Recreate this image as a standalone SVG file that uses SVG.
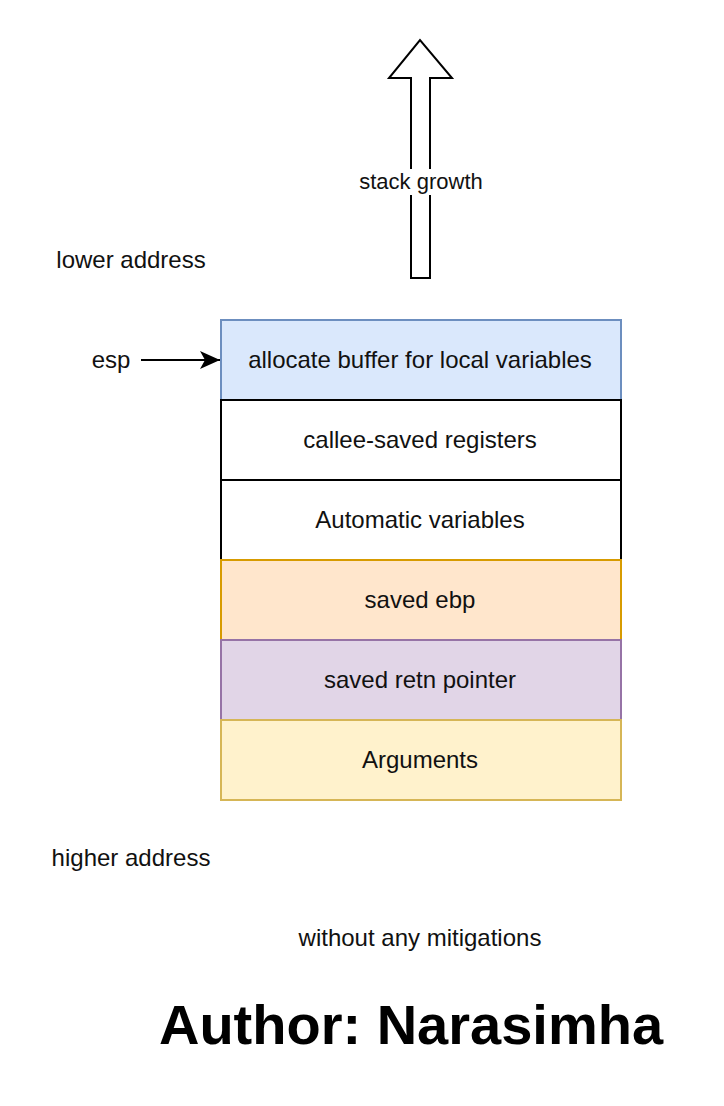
<svg xmlns="http://www.w3.org/2000/svg" width="724" height="1106" viewBox="0 0 724 1106">
<style>
text{font-family:"Liberation Sans",Arial,sans-serif;font-size:24px;fill:#111;text-anchor:middle;dominant-baseline:central}
.box{stroke-width:2}
</style>
<defs>
<marker id="ah" viewBox="0 0 20 18" refX="20" refY="9" markerWidth="20" markerHeight="18" markerUnits="userSpaceOnUse" orient="auto">
<path d="M0,0 L20,9 L0,18 L5,9 Z" fill="#000"/>
</marker>
</defs>
<rect width="724" height="1106" fill="#fff"/>
<g id="growth">
<path d="M411,278 L411,78 L389,78 L420,40 L452,78 L430,78 L430,278 Z" fill="#fff" stroke="#000" stroke-width="2"/>
<rect x="358" y="169" width="126" height="26" fill="#fff"/>
<text x="421" y="181" style="font-size:22px">stack growth</text>
</g>
<g id="lower"><text x="131" y="259">lower address</text></g>
<g id="b1"><rect class="box" x="221" y="320" width="400" height="80" fill="#dae8fc" stroke="#6c8ebf"/><text x="420" y="359">allocate buffer for local variables</text></g>
<g id="b2"><rect class="box" x="221" y="400" width="400" height="80" fill="#fff" stroke="#000"/><text x="420" y="439">callee-saved registers</text></g>
<g id="b3"><rect class="box" x="221" y="480" width="400" height="80" fill="#fff" stroke="#000"/><text x="420" y="519">Automatic variables</text></g>
<g id="b4"><rect class="box" x="221" y="560" width="400" height="80" fill="#ffe6cc" stroke="#d79b00"/><text x="420" y="599">saved ebp</text></g>
<g id="b5"><rect class="box" x="221" y="640" width="400" height="80" fill="#e1d5e7" stroke="#9673a6"/><text x="420" y="679">saved retn pointer</text></g>
<g id="b6"><rect class="box" x="221" y="720" width="400" height="80" fill="#fff2cc" stroke="#d6b656"/><text x="420" y="759">Arguments</text></g>
<g id="esp"><text x="111" y="359">esp</text></g>
<g id="connectors"><line x1="141" y1="360" x2="220" y2="360" stroke="#000" stroke-width="2" marker-end="url(#ah)"/></g>
<g id="higher"><text x="131" y="857">higher address</text></g>
<g id="note"><text x="420" y="937">without any mitigations</text></g>
<g id="author"><text x="411" y="1024" style="font-size:56px;font-weight:bold;fill:#000">Author: Narasimha</text></g>
</svg>
